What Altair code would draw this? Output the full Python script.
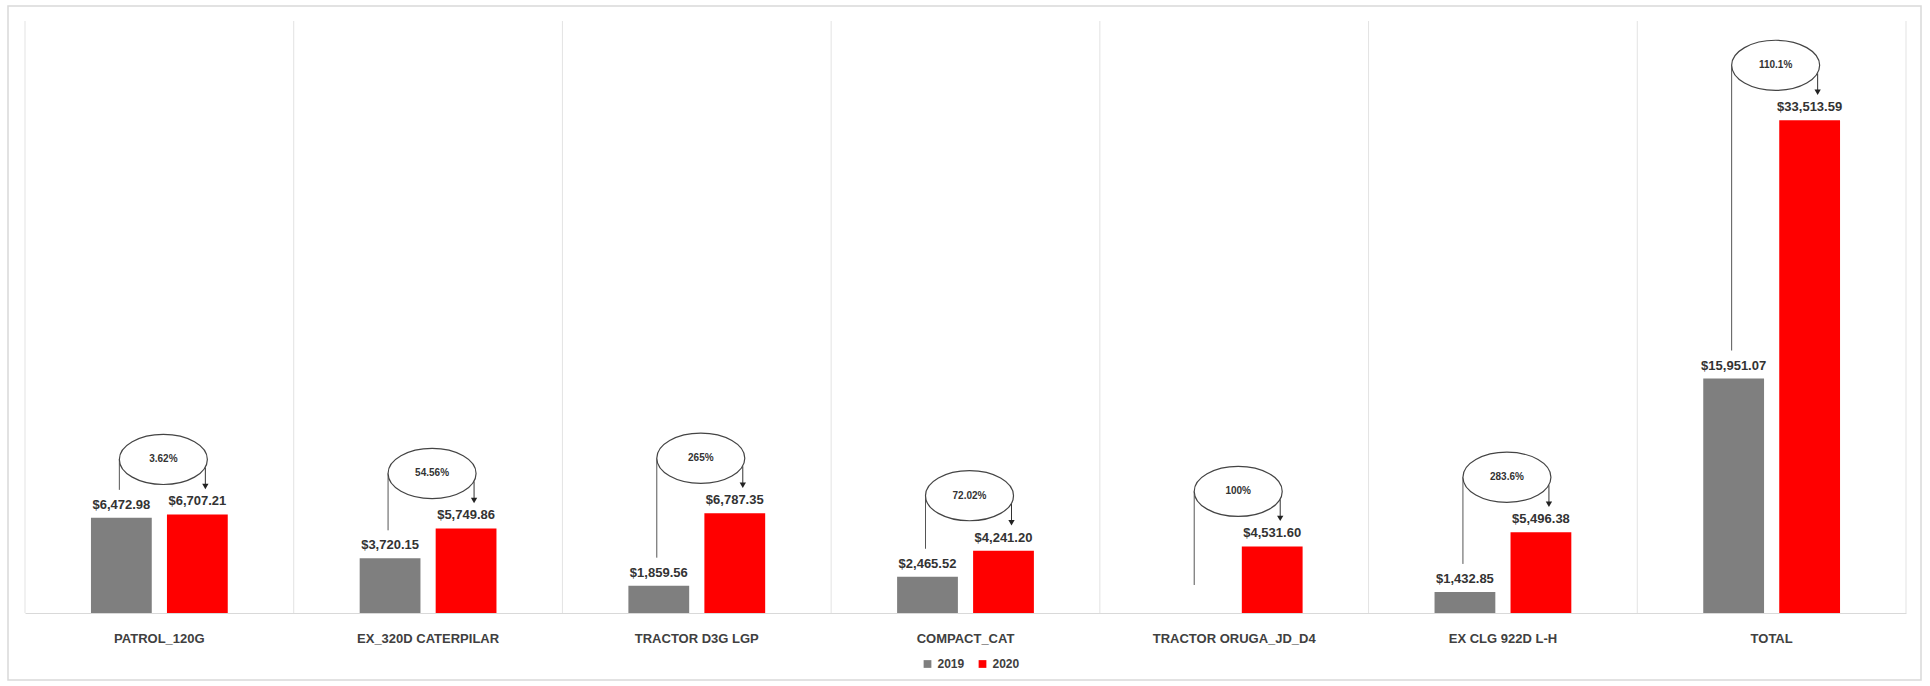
import altair as alt
import pandas as pd

CATS = ["PATROL_120G", "EX_320D CATERPILAR", "TRACTOR D3G LGP", "COMPACT_CAT",
        "TRACTOR ORUGA_JD_D4", "EX CLG 922D L-H", "TOTAL"]
V2019 = [6472.98, 3720.15, 1859.56, 2465.52, 0.0, 1432.85, 15951.07]
V2020 = [6707.21, 5749.86, 6787.35, 4241.20, 4531.60, 5496.38, 33513.59]
PCT = ["3.62%", "54.56%", "265%", "72.02%", "100%", "283.6%", "110.1%"]
YEARS = ["2019", "2020"]
COLORS = ["#7f7f7f", "#ff0000"]

W, H = 1881, 588
FONT = "Liberation Sans"

wide = pd.DataFrame({"cat": CATS, "v2019": V2019, "v2020": V2020, "pct": PCT})
long_rows = []
for c, a, b in zip(CATS, V2019, V2020):
    long_rows.append({"cat": c, "year": YEARS[0], "value": a})
    long_rows.append({"cat": c, "year": YEARS[1], "value": b})
long = pd.DataFrame(long_rows)
labels = long[long["value"] > 0]

xaxis = alt.Axis(title=None, labelAngle=0, ticks=False, domainColor="#d9d9d9",
                 labelFont=FONT, labelFontSize=13, labelFontWeight="bold",
                 labelColor="#404040", labelPadding=19, grid=False)
X = alt.X("cat:N", sort=CATS, axis=xaxis,
          scale=alt.Scale(paddingInner=0, paddingOuter=0))
yscale = alt.Scale(domain=[0, 40000], nice=False)
XOFF = alt.XOffset("year:N", sort=YEARS,
                   scale=alt.Scale(paddingInner=0.2, paddingOuter=0.868))

border = alt.Chart(pd.DataFrame({"a": [0]})).mark_rect(
    fill=None, stroke="#d9d9d9", strokeWidth=1.5
).encode(x=alt.value(-17), x2=alt.value(W + 15), y=alt.value(-19), y2=alt.value(H + 67))

dividers = alt.Chart(pd.DataFrame({"cat": CATS})).mark_rule(
    color="#e3e3e3", strokeWidth=1
).encode(x=alt.X("cat:N", sort=CATS, axis=xaxis, bandPosition=0),
         y=alt.value(-4), y2=alt.value(H))

right_edge = alt.Chart(pd.DataFrame({"a": [0]})).mark_rule(
    color="#e3e3e3", strokeWidth=1
).encode(x=alt.value(W), y=alt.value(-4), y2=alt.value(H))

bars = alt.Chart(long).mark_bar().encode(
    x=X,
    xOffset=XOFF,
    y=alt.Y("value:Q", scale=yscale, axis=None),
    color=alt.Color("year:N", sort=YEARS,
                    scale=alt.Scale(domain=YEARS, range=COLORS),
                    legend=alt.Legend(title=None, orient="none", direction="horizontal",
                                      legendX=W / 2 - 44, legendY=H + 45,
                                      symbolType="square", symbolSize=60,
                                      labelFont=FONT, labelFontSize=12,
                                      labelFontWeight="bold", labelColor="#404040",
                                      columnPadding=12, symbolStrokeWidth=0)),
)

vals = alt.Chart(labels).mark_text(
    baseline="bottom", dy=-6, font=FONT, fontSize=13, fontWeight="bold", color="#333333"
).encode(
    x=X,
    xOffset=XOFF,
    y=alt.Y("value:Q", scale=yscale, axis=None),
    text=alt.Text("value:Q", format="$,.2f"),
)

left_line = alt.Chart(wide).mark_rule(
    color="#555555", strokeWidth=1, xOffset=-40, yOffset=-55, y2Offset=-28
).encode(
    x=X,
    y=alt.Y("v2020:Q", scale=yscale, axis=None),
    y2="v2019:Q",
)

arrow_line = alt.Chart(wide).mark_rule(
    color="#333333", strokeWidth=1, xOffset=46, yOffset=-47, y2Offset=-29
).encode(
    x=X,
    y=alt.Y("v2020:Q", scale=yscale, axis=None),
    y2="v2020:Q",
)

arrow_head = alt.Chart(wide).mark_point(
    shape="triangle-down", size=40, filled=True, color="#222222", opacity=1,
    xOffset=46, yOffset=-28
).encode(
    x=X,
    y=alt.Y("v2020:Q", scale=yscale, axis=None),
)

k = 0.5523
ry = 0.57
ELLIPSE = (f"M -1 0 C -1 {-k*ry:.4f} {-k:.4f} {-ry} 0 {-ry} "
           f"C {k:.4f} {-ry} 1 {-k*ry:.4f} 1 0 "
           f"C 1 {k*ry:.4f} {k:.4f} {ry} 0 {ry} "
           f"C {-k:.4f} {ry} -1 {k*ry:.4f} -1 0 Z")

ellipse = alt.Chart(wide).mark_point(
    shape=ELLIPSE, size=88 * 88, fill="white", fillOpacity=1, filled=False,
    stroke="#444444", strokeWidth=1.2, opacity=1, xOffset=4, yOffset=-55
).encode(
    x=X,
    y=alt.Y("v2020:Q", scale=yscale, axis=None),
)

pct_text = alt.Chart(wide).mark_text(
    dx=4, dy=-55, font=FONT, fontSize=10, fontWeight="bold", color="#333333",
    baseline="middle"
).encode(
    x=X,
    y=alt.Y("v2020:Q", scale=yscale, axis=None),
    text="pct:N",
)

chart = alt.layer(
    border, dividers, right_edge, left_line, arrow_line, ellipse, pct_text,
    arrow_head, bars, vals
).resolve_scale(color="independent").properties(
    width=W, height=H,
    autosize=alt.AutoSizeParams(type="none"),
    padding={"left": 25, "top": 25, "right": 24, "bottom": 73},
    background="white",
).configure_view(stroke=None)

chart.save("out.html", embed_options={"renderer": "svg", "actions": False})
